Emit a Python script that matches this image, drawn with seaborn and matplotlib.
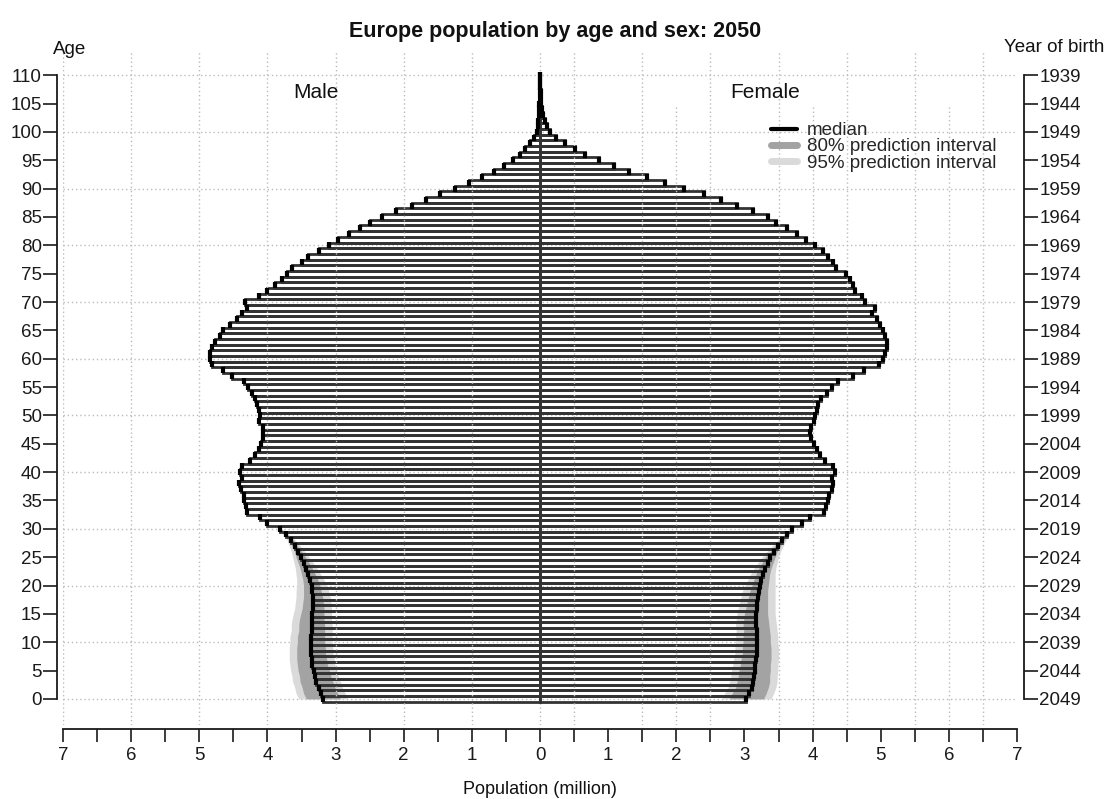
import numpy as np
import pandas as pd
import matplotlib
matplotlib.use("Agg")
import matplotlib.pyplot as plt
import seaborn as sns
from matplotlib.lines import Line2D

sns.set_theme(style="ticks")
plt.rcParams['font.family'] = ['Liberation Sans', 'DejaVu Sans']

# ---------------- data ----------------
ages = list(range(111))

male_median = [
    3.18, 3.22, 3.25, 3.28, 3.30, 3.32, 3.34, 3.35, 3.36, 3.36,
    3.36, 3.36, 3.35, 3.35, 3.35, 3.34, 3.33, 3.33, 3.33, 3.34,
    3.35, 3.37, 3.40, 3.43, 3.47, 3.51, 3.55, 3.60, 3.65, 3.73,
    3.81, 4.00, 4.11, 4.30, 4.32, 4.35, 4.35, 4.39, 4.41, 4.38,
    4.40, 4.38, 4.25, 4.18, 4.13, 4.09, 4.07, 4.06, 4.06, 4.12,
    4.11, 4.12, 4.15, 4.18, 4.23, 4.28, 4.35, 4.52, 4.65, 4.82,
    4.84, 4.84, 4.82, 4.77, 4.70, 4.65, 4.55, 4.45, 4.38, 4.30,
    4.33, 4.13, 4.00, 3.89, 3.79, 3.72, 3.64, 3.50, 3.40, 3.25,
    3.10, 2.96, 2.81, 2.64, 2.49, 2.32, 2.12, 1.88, 1.67, 1.47,
    1.25, 1.04, 0.85, 0.68, 0.53, 0.40, 0.29, 0.22, 0.15, 0.09,
    0.05, 0.035, 0.025, 0.018, 0.012, 0.008, 0.005, 0.003, 0.002, 0.001,
    0.001,
]

female_median = [
    3.03, 3.07, 3.11, 3.13, 3.14, 3.15, 3.16, 3.17, 3.18, 3.18,
    3.18, 3.18, 3.18, 3.17, 3.17, 3.17, 3.18, 3.19, 3.20, 3.21,
    3.23, 3.25, 3.27, 3.30, 3.34, 3.38, 3.43, 3.49, 3.55, 3.62,
    3.70, 3.84, 3.96, 4.17, 4.20, 4.23, 4.24, 4.29, 4.30, 4.29,
    4.33, 4.30, 4.18, 4.11, 4.06, 4.02, 3.97, 3.96, 3.97, 4.02,
    4.04, 4.06, 4.08, 4.13, 4.21, 4.28, 4.37, 4.60, 4.75, 4.98,
    5.03, 5.06, 5.09, 5.09, 5.06, 5.03, 4.99, 4.94, 4.87, 4.92,
    4.77, 4.72, 4.62, 4.59, 4.55, 4.49, 4.34, 4.30, 4.23, 4.16,
    4.04, 3.91, 3.77, 3.62, 3.47, 3.34, 3.13, 2.89, 2.65, 2.41,
    2.11, 1.83, 1.57, 1.31, 1.08, 0.86, 0.66, 0.51, 0.37, 0.24,
    0.15, 0.10, 0.07, 0.05, 0.03, 0.02, 0.012, 0.008, 0.005, 0.003,
    0.002,
]

# prediction-interval half widths (million) for ages 0..30
interval_ages = list(range(31))
w80 = [0.25, 0.25, 0.24, 0.24, 0.23, 0.23, 0.22, 0.22, 0.21, 0.21,
       0.20, 0.20, 0.19, 0.19, 0.18, 0.17, 0.16, 0.15, 0.14, 0.13,
       0.12, 0.11, 0.10, 0.09, 0.08, 0.07, 0.05, 0.04, 0.03, 0.02, 0.01]
w95 = [0.36, 0.36, 0.35, 0.35, 0.34, 0.34, 0.33, 0.33, 0.32, 0.32,
       0.31, 0.31, 0.30, 0.30, 0.29, 0.28, 0.27, 0.26, 0.25, 0.24,
       0.22, 0.20, 0.18, 0.16, 0.14, 0.12, 0.10, 0.08, 0.06, 0.04, 0.02]

x_ticks = [-7, -6.5, -6, -5.5, -5, -4.5, -4, -3.5, -3, -2.5, -2, -1.5, -1, -0.5,
           0, 0.5, 1, 1.5, 2, 2.5, 3, 3.5, 4, 4.5, 5, 5.5, 6, 6.5, 7]
x_tick_labels = ['7', '', '6', '', '5', '', '4', '', '3', '', '2', '', '1', '',
                 '0', '', '1', '', '2', '', '3', '', '4', '', '5', '', '6', '', '7']
age_ticks = list(range(0, 111, 5))
birth_year_labels = ['2049', '2044', '2039', '2034', '2029', '2024', '2019', '2014',
                     '2009', '2004', '1999', '1994', '1989', '1984', '1979', '1974',
                     '1969', '1964', '1959', '1954', '1949', '1944', '1939']

title = "Europe population by age and sex: 2050"

# ---------------- figure ----------------
W, H = 1107, 799
fig = plt.figure(figsize=(W / 100, H / 100), dpi=100)
ax = fig.add_axes([63 / W, 1 - 725 / H, (1017 - 63) / W, (725 - 52) / H])

YMIN, YMAX = -4.6, 114.1
grid_kw = dict(color='#bcbcbc', lw=1.0, ls=(0, (1, 2)))

# horizontal grid
for a in range(0, 111, 10):
    ax.axhline(a, zorder=0.5, **grid_kw)
ax.axvline(0, zorder=0.5, **grid_kw)

# prediction intervals
male_med = np.array(male_median)
fem_med = np.array(female_median)
ia = np.array(interval_ages)
mm = male_med[:len(ia)]
fm = fem_med[:len(ia)]
w80a, w95a = np.array(w80), np.array(w95)
c95, c80 = '#dadada', '#a3a3a3'
ax.fill_betweenx(ia, -(mm + w95a), -(mm - w95a), color=c95, lw=0, zorder=1)
ax.fill_betweenx(ia, -(mm + w80a), -(mm - w80a), color=c80, lw=0, zorder=1.1)
ax.fill_betweenx(ia, fm - w95a, fm + w95a, color=c95, lw=0, zorder=1)
ax.fill_betweenx(ia, fm - w80a, fm + w80a, color=c80, lw=0, zorder=1.1)

# bars
df_m = pd.DataFrame({'age': ages, 'pop': -male_med})
df_f = pd.DataFrame({'age': ages, 'pop': fem_med})
for d in (df_m, df_f):
    sns.barplot(data=d, x='pop', y='age', orient='y', native_scale=True,
                fill=False, color='#333333', linewidth=2.0, width=1.0,
                errorbar=None, ax=ax, zorder=2)

# medians
ax.plot(-male_med, ages, ls='none', marker='|', ms=4.8, mew=3.0,
        color='black', zorder=4)
ax.plot(fem_med, ages, ls='none', marker='|', ms=4.8, mew=3.0,
        color='black', zorder=4)

# vertical grid (drawn over the bars)
for x in [-7, -6, -5, -4, -3, -2, -1, 0.5, 1.5, 2.5, 3.5, 4.5, 5.5, 6.5]:
    ax.axvline(x, zorder=3, **grid_kw)
for x in [2, 4, 6]:
    ax.axvline(x, ymax=(104.5 - YMIN) / (YMAX - YMIN), zorder=3, **grid_kw)

ax.set_xlim(-7, 7)
ax.set_ylim(YMIN, YMAX)
ax.set_xlabel('')
ax.set_ylabel('')

ax.set_xticks(x_ticks)
ax.set_xticklabels(x_tick_labels)
ax.set_yticks(age_ticks)
ax.set_yticklabels([str(a) for a in age_ticks])
ax.tick_params(axis='x', direction='out', length=9, width=1.2, pad=4,
               labelsize=13.5, colors='#1a1a1a')
ax.tick_params(axis='y', direction='out', length=10, width=1.2, pad=1,
               labelsize=13.5, colors='#1a1a1a')
for s in ('top', 'right'):
    ax.spines[s].set_visible(False)
ax.spines['left'].set_position(('outward', 4.3))
ax.spines['left'].set_bounds(0, 110)
ax.spines['bottom'].set_position(('outward', 3))
ax.spines['bottom'].set_bounds(-7, 7)
for s in ('left', 'bottom'):
    ax.spines[s].set_linewidth(1.3)
    ax.spines[s].set_color('#1a1a1a')

ax2 = ax.twinx()
ax2.set_ylim(YMIN, YMAX)
ax2.set_yticks(age_ticks)
ax2.set_yticklabels(birth_year_labels)
ax2.tick_params(axis='y', direction='out', length=10, width=1.2, pad=1,
                labelsize=13.5, colors='#1a1a1a', right=True)
for s in ('top', 'left', 'bottom'):
    ax2.spines[s].set_visible(False)
ax2.spines['right'].set_position(('outward', 5))
ax2.spines['right'].set_bounds(0, 110)
ax2.spines['right'].set_linewidth(1.3)
ax2.spines['right'].set_color('#1a1a1a')

# legend
handles = [Line2D([], [], color='black', lw=3),
           Line2D([], [], color=c80, lw=5),
           Line2D([], [], color=c95, lw=5)]
fig.legend(handles, ['median', '80% prediction interval', '95% prediction interval'],
           loc='upper left', bbox_to_anchor=(771 / W, 1 - 122 / H),
           frameon=False, fontsize=13.5, handlelength=1.4, handletextpad=0.5,
           borderpad=0, borderaxespad=0, labelspacing=-0.05)

# texts
fig.text(555 / W, 1 - 31 / H, title, ha='center', va='center',
         fontsize=15.5, fontweight='bold', color='#111')
fig.text(53 / W, 1 - 50 / H, 'Age', ha='left', va='center', fontsize=13.5, color='#111')
fig.text(1104 / W, 1 - 48 / H, 'Year of birth', ha='right', va='center',
         fontsize=13.5, color='#111')
fig.text(316 / W, 1 - 93 / H, 'Male', ha='center', va='center', fontsize=15, color='#111')
fig.text(765 / W, 1 - 93 / H, 'Female', ha='center', va='center', fontsize=15, color='#111')
fig.text(540 / W, 1 - 789 / H, 'Population (million)', ha='center', va='center',
         fontsize=13, color='#111')

fig.savefig('out.png', dpi=100)
